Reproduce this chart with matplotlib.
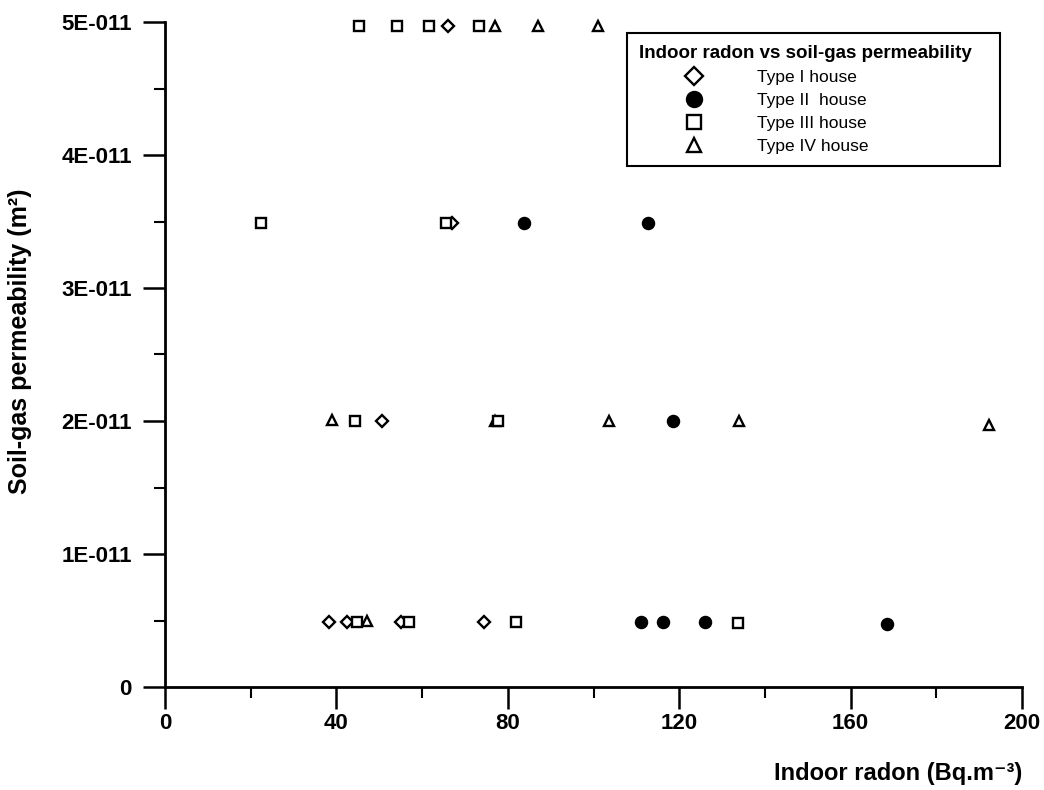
import matplotlib
matplotlib.use("Agg")
import matplotlib.pyplot as plt
from matplotlib.ticker import MultipleLocator, FixedLocator, FixedFormatter

plt.rcParams['font.family'] = ['Liberation Sans', 'DejaVu Sans']

# ---- data ----
type1_x = [66.0, 67.0, 50.6, 38.3, 42.5, 55.0, 74.5]
type1_y = [4.97e-11, 3.49e-11, 2.0e-11, 4.9e-12, 4.9e-12, 4.9e-12, 4.9e-12]

type2_x = [83.8, 112.7, 118.6, 111.1, 116.2, 126.0, 168.5]
type2_y = [3.49e-11, 3.49e-11, 2.0e-11, 4.9e-12, 4.9e-12, 4.9e-12, 4.7e-12]

type3_x = [45.3, 54.1, 61.6, 73.3, 22.4, 65.6, 44.3, 77.7, 44.7, 57.0, 81.9, 133.7]
type3_y = [4.97e-11, 4.97e-11, 4.97e-11, 4.97e-11, 3.49e-11, 3.49e-11,
           2.0e-11, 2.0e-11, 4.9e-12, 4.9e-12, 4.9e-12, 4.8e-12]

type4_x = [77.0, 87.0, 101.0, 39.0, 77.0, 103.6, 134.0, 192.3, 47.1]
type4_y = [4.97e-11, 4.97e-11, 4.97e-11, 2.01e-11, 2.0e-11, 2.0e-11, 2.0e-11,
           1.97e-11, 5.0e-12]

series_labels = ["Type I house", "Type II  house", "Type III house", "Type IV house"]
legend_title = "Indoor radon vs soil-gas permeability"

x_major = [0, 40, 80, 120, 160, 200]
x_tick_labels = ["0", "40", "80", "120", "160", "200"]
y_major = [0, 1e-11, 2e-11, 3e-11, 4e-11, 5e-11]
y_tick_labels = ["0", "1E-011", "2E-011", "3E-011", "4E-011", "5E-011"]

x_label = "Indoor radon (Bq.m\u207b\u00b3)"
y_label = "Soil-gas permeability (m\u00b2)"

# ---- figure ----
fig = plt.figure(figsize=(10.44, 7.9), dpi=100)
ax = fig.add_axes([165/1044, 1 - 687/790, (1022-165)/1044, (687-22)/790])

mew = 1.7
ax.plot(type1_x, type1_y, linestyle='none', marker='D', ms=6.5, mfc='white',
        mec='black', mew=mew, label=series_labels[0], zorder=3, clip_on=False)
ax.plot(type2_x, type2_y, linestyle='none', marker='o', ms=8, mfc='black',
        mec='black', mew=mew, label=series_labels[1], zorder=4, clip_on=False)
ax.plot(type3_x, type3_y, linestyle='none', marker='s', ms=7, mfc='white',
        mec='black', mew=mew, label=series_labels[2], zorder=5, clip_on=False)
ax.plot(type4_x, type4_y, linestyle='none', marker='^', ms=7.5, mfc='white',
        mec='black', mew=mew, label=series_labels[3], zorder=3.5, clip_on=False)

ax.set_xlim(0, 200)
ax.set_ylim(0, 5e-11)

ax.xaxis.set_major_locator(FixedLocator(x_major))
ax.xaxis.set_major_formatter(FixedFormatter(x_tick_labels))
ax.xaxis.set_minor_locator(MultipleLocator(20))
ax.yaxis.set_major_locator(FixedLocator(y_major))
ax.yaxis.set_major_formatter(FixedFormatter(y_tick_labels))
ax.yaxis.set_minor_locator(MultipleLocator(0.5e-11))

for s in ['top', 'right']:
    ax.spines[s].set_visible(False)
for s in ['left', 'bottom']:
    ax.spines[s].set_linewidth(2.0)

ax.tick_params(which='major', direction='out', length=16, width=1.8,
               labelsize=16)
ax.tick_params(which='minor', direction='out', length=8, width=1.5)
ax.tick_params(axis='y', which='major', pad=8)
ax.tick_params(axis='x', which='major', pad=3)
for lbl in ax.get_xticklabels() + ax.get_yticklabels():
    lbl.set_fontweight('bold')

ax.set_xlabel(x_label, fontsize=17, fontweight='bold', loc='right', labelpad=20)
ax.set_ylabel(y_label, fontsize=18, fontweight='bold')
ax.yaxis.set_label_coords(-0.155, 0.52)

leg = ax.legend(title=legend_title, loc='upper left',
                bbox_to_anchor=(627/1044, 1 - 33/790 - 0.2, (1000-627)/1044, 0.2),
                bbox_transform=fig.transFigure, mode='expand',
                borderaxespad=0, frameon=True, fancybox=False, framealpha=1,
                edgecolor='black', fontsize=12.5, title_fontsize=13.5,
                handlelength=6.3, handletextpad=0.5, labelspacing=0.45,
                markerscale=1.35, alignment='left', borderpad=0.7)
leg.get_title().set_fontweight('bold')
leg.get_frame().set_linewidth(1.5)

fig.savefig("out.png", dpi=100)
